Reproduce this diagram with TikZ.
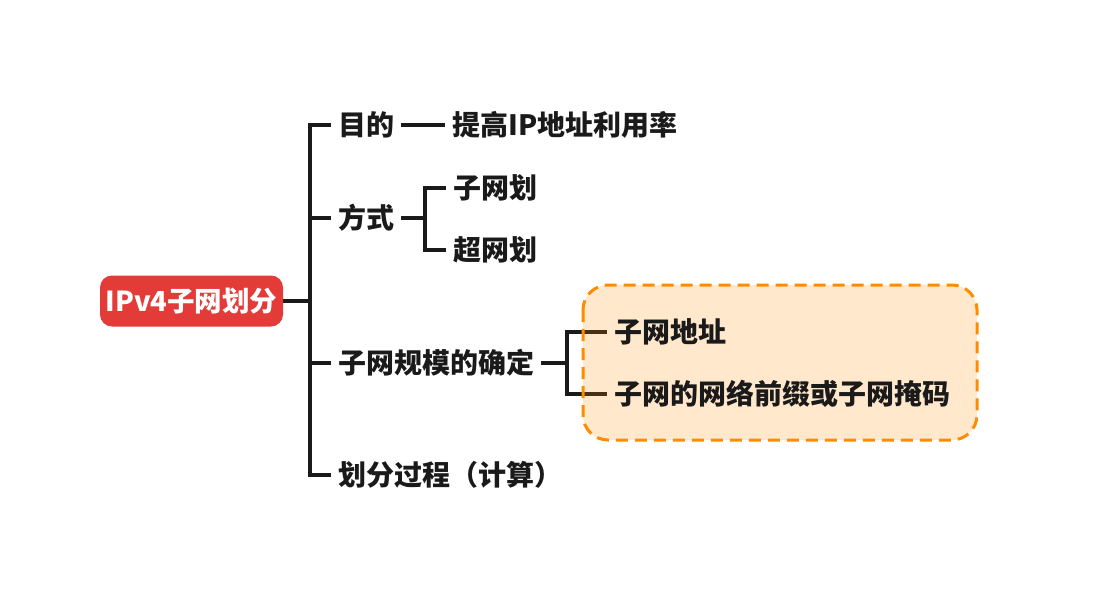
\documentclass[tikz,border=0pt]{standalone}
\usepackage{fontspec}
\setmainfont{Noto Sans CJK SC}
\usetikzlibrary{backgrounds}
\definecolor{rootred}{HTML}{E23B38}
\definecolor{boxorange}{HTML}{FF8C00}
\definecolor{ink}{HTML}{1A1A1A}
\tikzset{
  branch/.style={line width=3.6pt,draw=ink},
  topic/.style={anchor=west,inner xsep=7pt,inner ysep=0pt,text=ink,font=\fontsize{28}{31}\selectfont\bfseries},
  rootbox/.style={fill=rootred,rounded corners=12pt,text=white,minimum width=183pt,minimum height=51pt,inner sep=0pt,font=\fontsize{27.5}{30}\selectfont\bfseries},
  groupbox/.style={draw=boxorange,line width=3pt,dash pattern=on 12pt off 7pt,fill=boxorange,fill opacity=0.2,draw opacity=1,rounded corners=25pt}
}
\begin{document}
\begin{tikzpicture}[x=1pt,y=-1pt]
        \useasboundingbox (0,0) rectangle (1096,602);
        \node[rootbox] (root) at (191.5,301) {IPv4子网划分};
        \node[topic] (purpose) at (331,125) {目的};
        \node[topic] (method) at (331,218) {方式};
        \node[topic] (scale) at (331,363) {子网规模的确定};
        \node[topic] (calc) at (331,475) {划分过程（计算）};
        \node[topic] (goal) at (445,125) {提高IP地址利用率};
        \node[topic] (subnet) at (446,188) {子网划};
        \node[topic] (supernet) at (446,250) {超网划};
        \node[topic] (addr) at (607,332) {子网地址};
        \node[topic] (prefix) at (607,394) {子网的网络前缀或子网掩码};
        \coordinate (j1) at (310,301);
        \coordinate (j2) at (425,218);
        \coordinate (j3) at (567,363);
        \begin{scope}[on background layer]
          \draw[branch] (root.east) -- (j1);
          \draw[branch] (purpose.west) -| (j1) |- (calc.west);
          \draw[branch] (method.west) -- (method.west -| j1);
          \draw[branch] (scale.west) -- (scale.west -| j1);
          \draw[branch] (purpose.east) -- (goal.west);
          \draw[branch] (method.east) -- (j2);
          \draw[branch] (subnet.west) -| (j2) |- (supernet.west);
          \draw[branch] (scale.east) -- (j3);
          \draw[branch] (addr.west) -| (j3) |- (prefix.west);
          \draw[groupbox] (583,285) rectangle (977,440);
        \end{scope}
      \end{tikzpicture}
\end{document}
